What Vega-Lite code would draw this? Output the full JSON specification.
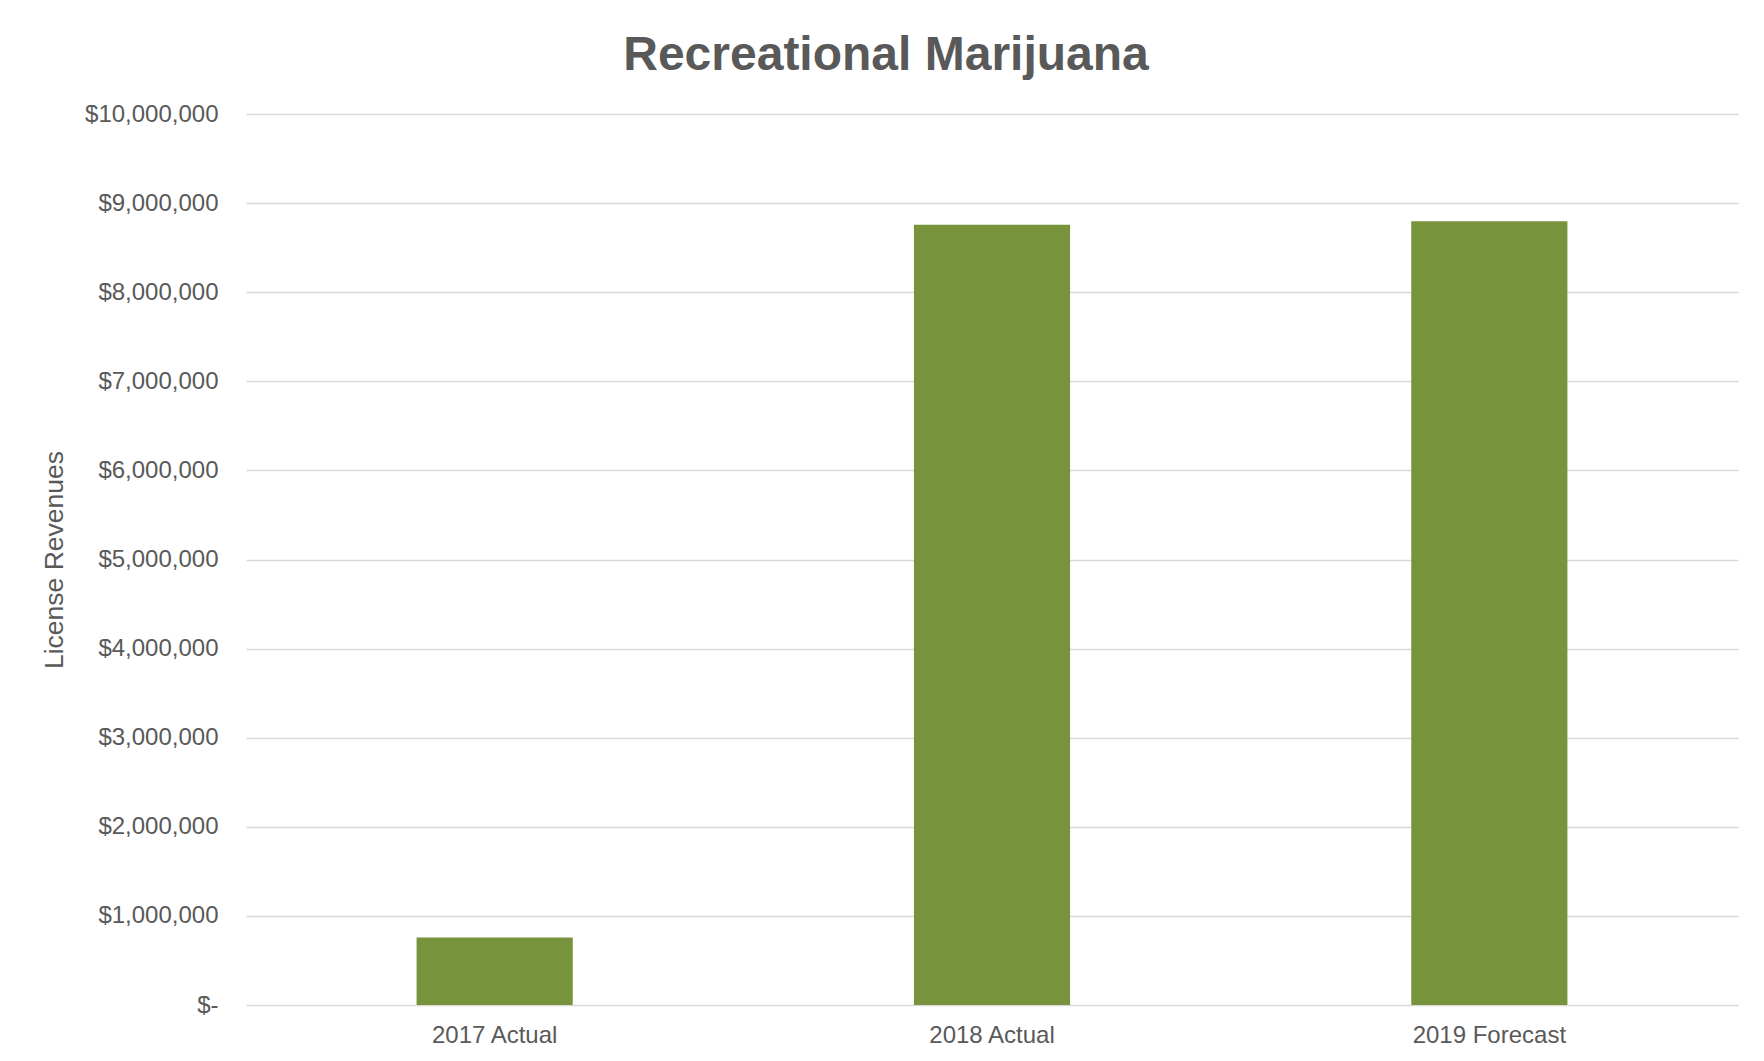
{
  "$schema": "https://vega.github.io/schema/vega-lite/v6.json",
  "width": 1492,
  "height": 891,
  "autosize": {"type": "none"},
  "padding": {"left": 246, "top": 114, "right": 26, "bottom": 56},
  "background": "white",
  "title": {
    "text": "Recreational Marijuana",
    "fontSize": 48,
    "font": "Liberation Sans",
    "fontWeight": "bold",
    "color": "#595959",
    "anchor": "middle",
    "offset": 22,
    "dx": -106
  },
  "data": {
    "values": [
      {"period": "2017 Actual", "revenue": 757000},
      {"period": "2018 Actual", "revenue": 8757000},
      {"period": "2019 Forecast", "revenue": 8795000}
    ]
  },
  "mark": {"type": "bar", "color": "#77933C"},
  "encoding": {
    "x": {
      "field": "period",
      "type": "nominal",
      "sort": null,
      "scale": {"paddingInner": 0.686, "paddingOuter": 0.343},
      "axis": {
        "title": null,
        "labelAngle": 0,
        "ticks": false,
        "domain": false,
        "grid": false,
        "labelFontSize": 24,
        "labelColor": "#595959",
        "labelFont": "Liberation Sans",
        "labelPadding": 18
      }
    },
    "y": {
      "field": "revenue",
      "type": "quantitative",
      "scale": {"domain": [0, 10000000], "nice": false},
      "axis": {
        "title": "License Revenues",
        "titleFont": "Liberation Sans",
        "titleFontSize": 26.5,
        "titleFontWeight": "normal",
        "titleColor": "#595959",
        "titlePadding": 16,
        "values": [0, 1000000, 2000000, 3000000, 4000000, 5000000, 6000000, 7000000, 8000000, 9000000, 10000000],
        "labelExpr": "datum.value == 0 ? '$-' : '$' + format(datum.value, ',')",
        "labelFont": "Liberation Sans",
        "labelFontSize": 24,
        "labelColor": "#595959",
        "labelPadding": 28,
        "ticks": false,
        "domain": false,
        "grid": true,
        "gridColor": "#d9d9d9",
        "gridWidth": 1.5
      }
    }
  },
  "config": {"view": {"stroke": null}}
}
